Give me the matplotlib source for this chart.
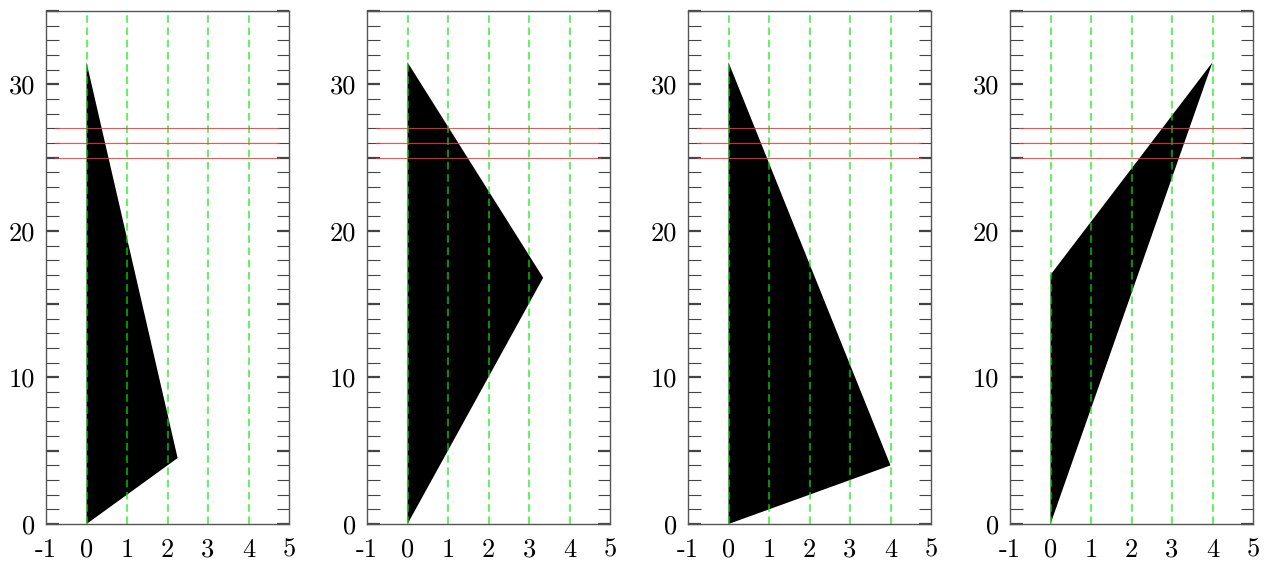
import matplotlib
matplotlib.use("Agg")
import matplotlib.pyplot as plt
from matplotlib.ticker import MultipleLocator, FixedLocator, FuncFormatter

plt.rcParams['font.family'] = ['cmr10', 'DejaVu Serif']
plt.rcParams['axes.unicode_minus'] = False

# triangle corners of each panel (x, y)
triangles = [
    [(0, 0), (0, 31.5), (2.25, 4.5)],
    [(0, 0), (0, 31.5), (3.35, 16.8)],
    [(0, 0), (0, 31.5), (4.0, 4.0)],
    [(0, 0), (0, 17.0), (4.0, 31.5)],
]
grid_x = [0, 1, 2, 3, 4]
red_y = [25, 26, 27]
x_ticks = [-1, 0, 1, 2, 3, 4, 5]
x_labels = ['-1', '0', '1', '2', '3', '4', '5']

W, H = 1266, 561
fig = plt.figure(figsize=(W / 100, H / 100), dpi=100)

lefts = [46, 367, 688, 1010]
width = 243
top, bottom = 11, 524

for i, tri in enumerate(triangles):
    ax = fig.add_axes([lefts[i] / W, 1 - bottom / H, width / W, (bottom - top) / H])
    ax.set_xlim(-1, 5)
    ax.set_ylim(0, 35)

    xs = [p[0] for p in tri]
    ys = [p[1] for p in tri]
    ax.fill(xs, ys, color='black', lw=0, zorder=2)

    for gx in grid_x:
        ax.axvline(gx, color='#00ee00', lw=1.1, ls=(0, (5, 3)), alpha=0.8, zorder=3)
    for ry in red_y:
        ax.axhline(ry, xmin=0.037, xmax=0.959, color='#ff3030', lw=0.8, alpha=0.85, zorder=4)

    ax.xaxis.set_major_locator(FixedLocator(x_ticks))
    ax.set_xticklabels(x_labels)
    ax.tick_params(axis='x', length=0, labelsize=19, pad=10)

    ax.yaxis.set_major_locator(MultipleLocator(5))
    ax.yaxis.set_minor_locator(MultipleLocator(1))
    ax.yaxis.set_major_formatter(FuncFormatter(lambda v, p: '%d' % v if v % 10 == 0 else ''))
    ax.tick_params(axis='y', which='both', direction='in', left=True, right=True,
                   length=9, color='#444444', labelsize=19, pad=8)
    ax.tick_params(axis='y', which='major', width=1.6)
    ax.tick_params(axis='y', which='minor', width=0.8)

    for s in ax.spines.values():
        s.set_color('#555555')
        s.set_linewidth(1.0)

fig.savefig('out.png', dpi=100)
